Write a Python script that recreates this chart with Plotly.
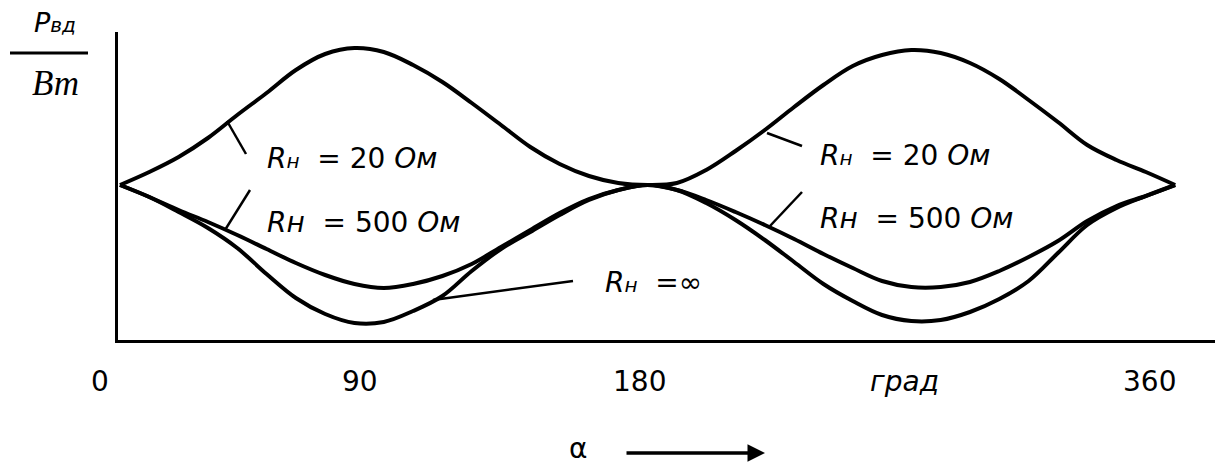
import plotly.graph_objects as go

# ---- data ----
alpha = [0, 10, 20, 30, 40, 50, 60, 70, 80, 90, 100, 110, 120, 130, 140, 150, 160, 170, 180,
         190, 200, 210, 220, 230, 240, 250, 260, 270, 280, 290, 300, 310, 320, 330, 340, 350, 360]
p_r20 = [1.55, 1.68, 1.83, 2.02, 2.25, 2.47, 2.70, 2.86, 2.92, 2.88, 2.75, 2.58, 2.37, 2.15,
         1.93, 1.76, 1.64, 1.57, 1.55,
         1.57, 1.70, 1.89, 2.10, 2.33, 2.55, 2.74, 2.85, 2.90, 2.87, 2.77, 2.61, 2.40, 2.18,
         1.95, 1.80, 1.68, 1.55]
p_r500 = [1.55, 1.43, 1.30, 1.18, 1.05, 0.91, 0.77, 0.65, 0.56, 0.52, 0.56, 0.64, 0.76, 0.93,
          1.10, 1.27, 1.41, 1.50, 1.55,
          1.50, 1.40, 1.28, 1.15, 1.01, 0.86, 0.72, 0.59, 0.53, 0.53, 0.58, 0.69, 0.83, 0.99,
          1.19, 1.34, 1.44, 1.55]
p_rinf = [1.55, 1.43, 1.28, 1.12, 0.92, 0.66, 0.42, 0.26, 0.17, 0.18, 0.29, 0.44, 0.69, 0.91,
          1.08, 1.25, 1.40, 1.50, 1.55,
          1.50, 1.37, 1.20, 1.00, 0.78, 0.56, 0.39, 0.25, 0.19, 0.20, 0.28, 0.41, 0.59, 0.87,
          1.15, 1.32, 1.44, 1.55]

tick_labels = ["0", "90", "180", "<i>град</i>", "360"]
tick_pos = [-6.8, 81.9, 177.4, 267.8, 351.4]

# page body has an 8px margin; the figure is sized so the plot sits where the reference has it
BODY = 8
W, H = 1223 - BODY, 468 - BODY
ML, MR, MT, MB = 118 - BODY, 3, 32 - BODY, 128
PW, PH = W - ML - MR, H - MT - MB
X0, X1 = -0.68, 375.3
Y0, Y1 = 0.0, 3.08


def dx(px):
    return X0 + (px - BODY - ML) / PW * (X1 - X0)


def dy(py):
    return Y0 + (BODY + MT + PH - py) / PH * (Y1 - Y0)


def px_paper(px):
    return (px - BODY - ML) / PW


def py_paper(py):
    return (BODY + MT + PH - py) / PH


def deg_paper(a):
    return (a - X0) / (X1 - X0)


fig = go.Figure()
for vals in (p_r20, p_r500, p_rinf):
    fig.add_trace(go.Scatter(x=alpha, y=vals, mode="lines",
                             line=dict(color="black", width=4, shape="spline", smoothing=1),
                             showlegend=False, hoverinfo="skip"))

SANS = "DejaVu Sans"
annots = []
# tick labels
for t, p in zip(tick_labels, tick_pos):
    annots.append(dict(x=deg_paper(p), y=py_paper(382), xref="paper", yref="paper", text=t,
                       showarrow=False, xanchor="center", yanchor="middle",
                       font=dict(family=SANS, size=28, color="black")))
# axis symbol + arrow
annots.append(dict(x=px_paper(578), y=py_paper(467), xref="paper", yref="paper",
                   text="α", showarrow=False, xanchor="center", yanchor="bottom",
                   font=dict(family=SANS, size=28, color="black")))
annots.append(dict(x=px_paper(765), y=py_paper(453), xref="paper", yref="paper",
                   text="", showarrow=True, ax=-140, ay=0, arrowhead=2,
                   arrowsize=1, arrowwidth=3.5, arrowcolor="black"))
# y-axis title
annots.append(dict(x=px_paper(55), y=py_paper(23), xref="paper", yref="paper",
                   text="<i>P</i><i><span style='font-size:20px'>вд</span></i>", showarrow=False,
                   xanchor="center", yanchor="middle",
                   font=dict(family=SANS, size=27, color="black")))
annots.append(dict(x=px_paper(55), y=py_paper(83), xref="paper", yref="paper",
                   text="<i>Вт</i>", showarrow=False, xanchor="center", yanchor="middle",
                   font=dict(family="Liberation Serif", size=35, color="black")))

# curve labels
lab20 = "<i>R</i><i><span style='font-size:20px'>н</span></i>  = 20 <i>Ом</i>"
lab500 = "<i>R</i><i>н</i>  = 500 <i>Ом</i>"
labinf = "<i>R</i><i><span style='font-size:20px'>н</span></i>  =∞"
for txt, xpx, ypx in [(lab20, 265, 158), (lab500, 265, 222),
                      (lab20, 818, 155), (lab500, 818, 218), (labinf, 603, 282)]:
    annots.append(dict(x=dx(xpx), y=dy(ypx), xref="x", yref="y", text=txt,
                       showarrow=False, xanchor="left", yanchor="middle",
                       font=dict(family=SANS, size=28, color="black")))

shapes = []
# leader lines
for (x1, y1, x2, y2) in [(227, 121, 246, 154), (250, 190, 225, 230),
                         (573, 281, 433, 300), (767, 133, 802, 146),
                         (802, 192, 770, 226)]:
    shapes.append(dict(type="line", xref="x", yref="y", x0=dx(x1), y0=dy(y1),
                       x1=dx(x2), y1=dy(y2), line=dict(color="black", width=2.5)))
# fraction bar of y title
shapes.append(dict(type="line", xref="paper", yref="paper", x0=px_paper(10), x1=px_paper(88),
                   y0=py_paper(53), y1=py_paper(53), line=dict(color="black", width=3)))

fig.update_layout(
    width=W, height=H, margin=dict(l=ML, r=MR, t=MT, b=MB),
    paper_bgcolor="white", plot_bgcolor="white",
    xaxis=dict(range=[X0, X1], showline=True, linecolor="black", linewidth=3,
               showgrid=False, zeroline=False, showticklabels=False, ticks=""),
    yaxis=dict(range=[Y0, Y1], showline=True, linecolor="black", linewidth=3,
               showgrid=False, zeroline=False, showticklabels=False, ticks=""),
    annotations=annots, shapes=shapes,
)

fig.write_html("out.html")
